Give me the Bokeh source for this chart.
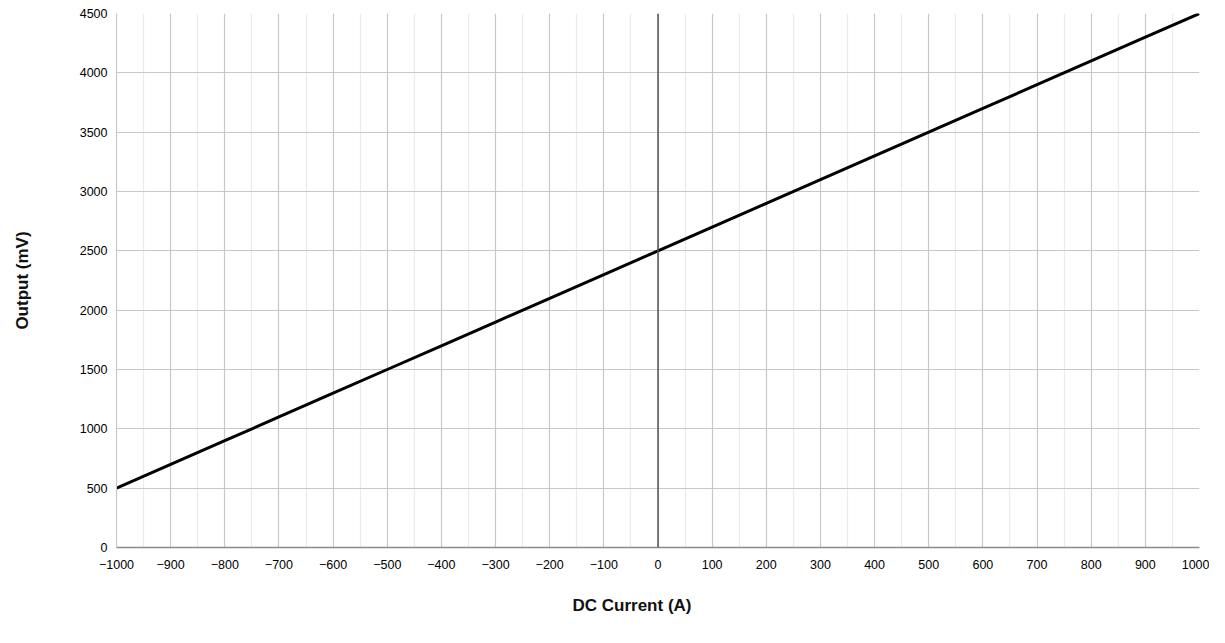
from bokeh.plotting import figure
from bokeh.models import Range1d, Span, FixedTicker, Title
from bokeh.embed import file_html
from bokeh.resources import INLINE

# Data
current_a = [-1000, -900, -800, -700, -600, -500, -400, -300, -200, -100, 0,
             100, 200, 300, 400, 500, 600, 700, 800, 900, 1000]
output_mv = [500, 700, 900, 1100, 1300, 1500, 1700, 1900, 2100, 2300, 2500,
             2700, 2900, 3100, 3300, 3500, 3700, 3900, 4100, 4300, 4500]
x_ticks = list(range(-1000, 1001, 100))
x_minor = list(range(-950, 1000, 100))
y_ticks = list(range(0, 4501, 500))
x_title = "DC Current (A)"
y_title = "Output (mV)"

p = figure(width=1209, height=643, output_backend="svg", toolbar_location=None,
           x_range=Range1d(-1000, 1000), y_range=Range1d(0, 4500),
           min_border_left=116, min_border_right=10, min_border_top=13,
           min_border_bottom=96)
p.outline_line_color = None
p.background_fill_color = "white"

p.xaxis.ticker = FixedTicker(ticks=x_ticks, minor_ticks=x_minor)
p.yaxis.ticker = FixedTicker(ticks=y_ticks)

p.xgrid.grid_line_color = "#c8c8c8"
p.xgrid.grid_line_width = 1.2
p.xgrid.minor_grid_line_color = "#ebebeb"
p.xgrid.minor_grid_line_width = 1.2
p.ygrid.grid_line_color = "#c8c8c8"
p.ygrid.grid_line_width = 1.2

for ax in (p.xaxis[0], p.yaxis[0]):
    ax.major_tick_out = 0
    ax.major_tick_in = 0
    ax.minor_tick_out = 0
    ax.minor_tick_in = 0
    ax.major_label_text_font = "Liberation Sans"
    ax.major_label_text_font_size = "12.5px"
    ax.major_label_text_color = "#000000"

p.xaxis.axis_line_color = "#8a8a8a"
p.xaxis.axis_line_width = 1.5
p.yaxis.axis_line_color = "#c8c8c8"
p.yaxis.axis_line_width = 1.2
p.xaxis.major_label_standoff = 12
p.yaxis.major_label_standoff = 9

p.yaxis.axis_label = y_title
p.yaxis.axis_label_standoff = 45
p.yaxis.axis_label_text_font = "Liberation Sans"
p.yaxis.axis_label_text_font_style = "bold"
p.yaxis.axis_label_text_font_size = "17px"
p.yaxis.axis_label_text_color = "#111111"

p.add_layout(Span(location=0, dimension="height", line_color="#555555", line_width=1.5))

p.line(current_a, output_mv, line_color="black", line_width=3)

p.add_layout(Title(text=x_title, offset=456, standoff=47, align="left",
                   vertical_align="middle", text_font="Liberation Sans",
                   text_font_style="bold", text_font_size="17px",
                   text_color="#111111"), "below")

open("out.html", "w").write(file_html(p, INLINE))
